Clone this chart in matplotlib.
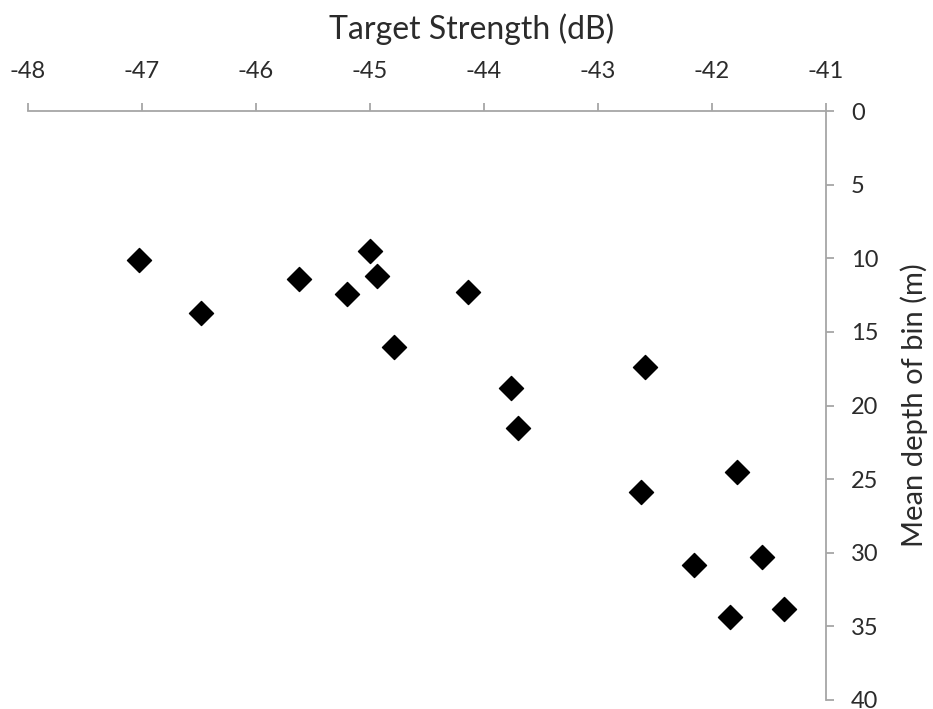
import numpy as np
import matplotlib.pyplot as plt

# target strength (dB) and mean depth of bin (m)
ts = [-47.03, -46.48, -45.62, -45.20, -45.00, -44.94, -44.79, -44.14, -43.76,
      -43.70, -42.59, -42.62, -41.78, -42.16, -41.56, -41.84, -41.37]
depth = [10.1, 13.7, 11.4, 12.4, 9.5, 11.2, 16.0, 12.3, 18.8,
         21.5, 17.4, 25.85, 24.5, 30.8, 30.3, 34.35, 33.8]

x_ticks = np.arange(-48, -40, 1)
y_ticks = np.arange(0, 45, 5)

plt.rcParams['font.family'] = ['Lato', 'DejaVu Sans']
plt.rcParams['axes.unicode_minus'] = False

fig = plt.figure(figsize=(9.33, 7.09), dpi=100)
ax = fig.add_axes([28 / 933, 1 - 700 / 709, (826 - 28) / 933, (700 - 111) / 709])

ax.scatter(ts, depth, marker='D', s=150, color='black', zorder=3)

ax.set_xlim(-48, -41)
ax.set_ylim(40, 0)
ax.set_xticks(x_ticks)
ax.set_yticks(y_ticks)

for side in ['left', 'bottom']:
    ax.spines[side].set_visible(False)
for side in ['top', 'right']:
    ax.spines[side].set_color('#a6a6a6')
    ax.spines[side].set_linewidth(1.3)

ax.xaxis.set_ticks_position('top')
ax.xaxis.set_label_position('top')
ax.yaxis.set_ticks_position('right')
ax.yaxis.set_label_position('right')
ax.tick_params(axis='x', direction='out', length=6, width=1.3, color='#a6a6a6',
               pad=15, labelsize=17, labelcolor='#2b2b2b')
ax.tick_params(axis='y', direction='out', length=6, width=1.3, color='#a6a6a6',
               pad=12, labelsize=17, labelcolor='#2b2b2b')

ax.set_xlabel('Target Strength (dB)', fontsize=23, color='#2b2b2b')
ax.xaxis.set_label_coords(0.556, 1.122)
ax.set_ylabel('Mean depth of bin (m)', fontsize=21, color='#2b2b2b', labelpad=16)

fig.savefig('out.png', dpi=100)
